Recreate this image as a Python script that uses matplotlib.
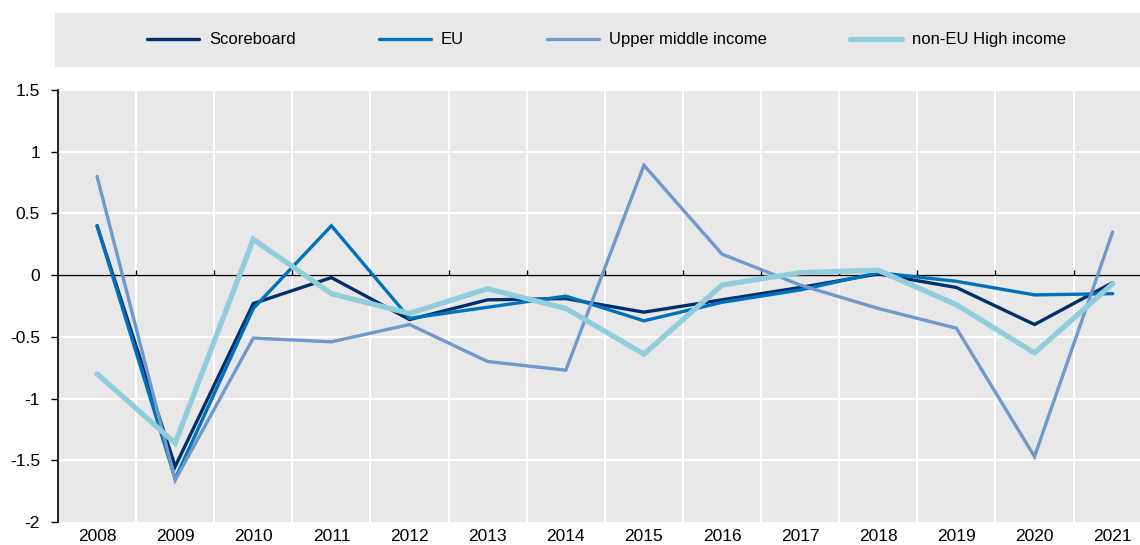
import matplotlib
matplotlib.use("Agg")
import matplotlib.pyplot as plt
import numpy as np

# data
years = ["2008", "2009", "2010", "2011", "2012", "2013", "2014",
         "2015", "2016", "2017", "2018", "2019", "2020", "2021"]
scoreboard = [0.40, -1.55, -0.23, -0.02, -0.36, -0.20, -0.19,
              -0.30, -0.20, -0.10, 0.01, -0.10, -0.40, -0.06]
eu = [0.40, -1.65, -0.27, 0.40, -0.35, -0.26, -0.17,
      -0.37, -0.22, -0.12, 0.02, -0.05, -0.16, -0.15]
upper_middle = [0.80, -1.66, -0.51, -0.54, -0.40, -0.70, -0.77,
                0.89, 0.17, -0.08, -0.27, -0.43, -1.47, 0.35]
non_eu_high = [-0.80, -1.36, 0.29, -0.15, -0.31, -0.11, -0.27,
               -0.64, -0.08, 0.02, 0.04, -0.24, -0.63, -0.07]

series = [
    ("Scoreboard", scoreboard, "#002F6C", 2.4),
    ("EU", eu, "#0072BC", 2.4),
    ("Upper middle income", upper_middle, "#6F98CB", 2.4),
    ("non-EU High income", non_eu_high, "#92CDDC", 3.8),
]

plt.rcParams['font.family'] = ['Liberation Sans', 'DejaVu Sans']

fig = plt.figure(figsize=(11.4, 5.45), dpi=100)
ax = fig.add_axes([58 / 1140, 1 - 522 / 545, 1 - 58 / 1140, 432 / 545])
ax.set_facecolor("#E8E8E8")

x = np.arange(len(years))
bounds = x[:-1] + 0.5

# grid
for b in bounds:
    ax.axvline(b, color="white", lw=1.5, zorder=1)
for yv in np.arange(-1.5, 1.51, 0.5):
    ax.axhline(yv, color="white", lw=1.5, zorder=1)
ax.axhline(0, color="black", lw=1.0, zorder=2)
ax.vlines(bounds, 0, 0.045, color="black", lw=1.0, zorder=2)

handles = []
for name, vals, col, lw in series:
    h, = ax.plot(x, vals, color=col, lw=lw, label=name, zorder=3,
                 solid_capstyle="round", solid_joinstyle="miter")
    handles.append(h)

ax.set_xlim(-0.5, 13.35)
ax.set_ylim(-2, 1.5)
ax.set_xticks(x)
ax.set_xticklabels(years)
ax.set_yticks(np.arange(-2, 1.51, 0.5))
ax.set_yticklabels(["-2", "-1.5", "-1", "-0.5", "0", "0.5", "1", "1.5"])
ax.tick_params(axis="x", length=0, labelsize=12.5, pad=5)
ax.tick_params(axis="y", length=5, width=1, direction="out", labelsize=12.5, pad=8)
for s in ["top", "right", "bottom"]:
    ax.spines[s].set_visible(False)
ax.spines["left"].set_color("black")
ax.spines["left"].set_linewidth(1.2)

# legend band
band = plt.Rectangle((55 / 1140, 1 - 67 / 545), 1 - 55 / 1140, 54 / 545,
                     transform=fig.transFigure, facecolor="#E8E8E8",
                     edgecolor="none", zorder=0)
fig.patches.append(band)
fig.legend(handles=handles, loc="center", bbox_to_anchor=(0.532, 1 - 40 / 545),
           ncol=4, frameon=False, fontsize=12, handlelength=3.1,
           handletextpad=0.6, columnspacing=5.0)

fig.savefig("out.png", dpi=100)
